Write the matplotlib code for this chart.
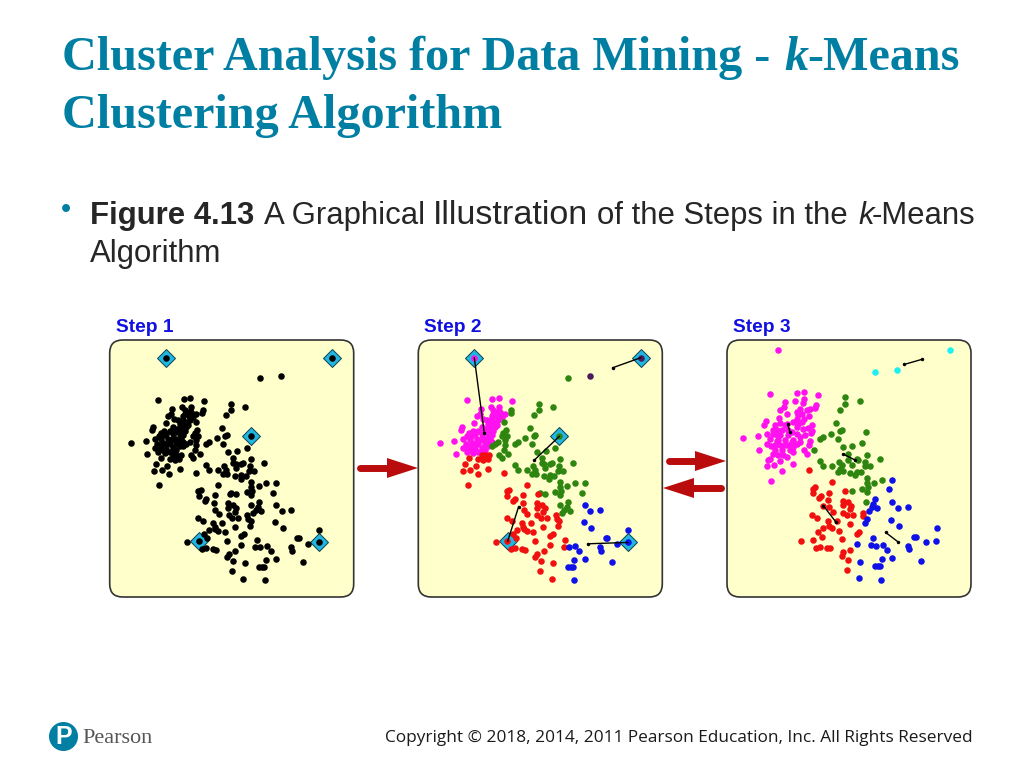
import matplotlib
matplotlib.use("Agg")
import matplotlib.pyplot as plt
from matplotlib.patches import FancyBboxPatch, Polygon, Circle

# point readings for steps 1 and 2 (same points, step 1 is just all of them in black)
s2_magenta = [(193,143),(170,268),(247,265),(266,264),(307,271),(213,295),(242,290),(268,290),(284,312),(262,305),
    (250,300),(270,305),(210,310),(200,318),(245,318),(262,318),(218,326),(245,330),(258,335),(235,340),(193,338),
    (155,350),(153,360),(215,350),(205,362),(228,355),(245,345),(188,362),(178,368),(172,378),(195,370),(215,372),
    (235,370),(250,362),(133,391),(90,398),(160,385),(180,385),(200,385),(225,385),(240,385),(168,400),(185,398),
    (205,400),(225,400),(245,395),(160,412),(175,415),(195,415),(215,412),(235,408),(137,432),(170,425),(190,428),
    (205,425),(225,420),(180,405),(210,390),(255,350),(265,328),(230,330),(240,355),(260,345),(215,385),(190,375),
    (235,395),(195,400),(215,425),(250,310),(275,320),(185,420),(220,365),(245,375)]
s2_green = [(448,378),(475,205),(388,280),(388,298),(430,290),(373,315),(304,298),(302,308),(283,334),(288,360),(280,368),
    (276,376),(290,378),(285,388),(361,353),(376,373),(372,378),(346,384),(323,394),(315,400),(265,395),(255,400),
    (245,408),(285,405),(282,418),(366,400),(436,412),(381,424),(407,422),(268,434),(295,432),(275,442),(395,442),
    (450,447),(488,457),(395,458),(314,465),(324,479),(350,479),(369,467),(375,477),(365,490),(378,490),(403,462),
    (420,460),(426,458),(405,472),(446,468),(443,480),(458,480),(401,497),(420,494),(418,504),(433,495),(450,513),
    (495,518),(524,518),(472,527),(450,530),(453,540),(436,544),(516,546),(390,546),(405,550),(450,553),(474,575),
    (449,584),(470,590),(480,600),(463,598),(456,607)]
s2_red = [(178,442),(165,460),(215,433),(225,433),(238,433),(205,445),(220,450),(233,447),(198,466),(235,475),(159,480),
    (181,477),(204,491),(283,488),(173,522),(350,524),(298,538),(290,542),(385,550),(292,555),(340,554),(315,565),
    (310,571),(338,576),(380,578),(395,582),(380,592),(405,592),(342,597),(400,603),(352,610),(382,614),(393,622),
    (410,622),(290,621),(305,630),(438,612),(440,625),(448,632),(445,645),(336,636),(362,636),(340,648),(342,656),
    (350,660),(400,648),(322,659),(308,670),(370,665),(428,670),(420,675),(318,683),(292,692),(258,695),(376,690),
    (466,688),(420,703),(461,708),(303,716),(315,712),(335,716),(345,717),(402,722),(382,730),(376,738),(394,749),
    (430,755),(391,780),(426,803)]
s2_blue = [(524,582),(541,600),(570,597),(521,635),(544,652),(654,659),(588,683),(592,683),(653,695),(620,699),(477,709),
    (496,707),(508,722),(570,708),(573,720),(524,743),(493,746),(606,754),(474,767),(482,768),(489,768),(491,808)]
s2_purple = [(539,199),(692,143)]

seeds = [(193,143),(692,143),(448,378),(293,692),(653,695)]
s2_moves = [((193,143),(223,368)),((692,143),(608,173)),((448,378),(372,450)),((293,692),(326,588)),((653,695),(533,699))]

# step 3 readings
s3_cyan = [(646,185),(712,179),(870,120)]
s3_magenta = [(354,121),(331,250),(410,247),(431,245),(473,254),(376,275),(405,272),(432,265),(430,278),(372,290),(468,285),
    (466,292),(450,296),(360,300),(420,295),(410,305),(440,300),(415,315),(380,310),(356,322),(448,318),(432,325),
    (410,325),(318,333),(313,344),(360,338),(345,345),(380,340),(400,335),(425,335),(455,345),(445,352),(340,358),
    (365,358),(385,358),(410,350),(430,355),(455,362),(320,372),(340,372),(360,375),(385,375),(410,370),(435,375),
    (452,368),(249,384),(293,377),(330,385),(350,392),(375,390),(400,388),(420,395),(450,392),(320,400),(332,408),
    (360,405),(385,405),(410,400),(447,405),(297,420),(345,420),(365,420),(390,420),(432,420),(340,430),(370,435),
    (400,425),(440,430),(330,445),(360,453),(325,450),(320,468),(342,465),(399,462),(366,480),(334,512),(380,440),(355,390),
    (350,360),(375,345),(395,365),(420,380),(345,405),(375,405),(400,410),(350,375),(425,310),(415,340),(395,395),(355,435)]
s3_green = [(556,261),(600,272),(556,281),(541,298),(529,338),(545,358),(540,363),(514,370),(490,380),(481,385),(534,386),
    (619,364),(607,398),(461,420),(549,411),(576,408),(563,430),(621,433),(659,445),(480,453),(592,447),(565,449),
    (575,463),(536,455),(490,466),(517,466),(545,465),(595,450),(614,456),(616,468),(630,468),(535,483),(548,480),
    (540,475),(570,487),(586,493),(590,483),(603,484),(620,502),(666,507),(622,517),(642,517),(605,534),(625,530),
    (575,541),(620,545),(618,575)]
s3_red = [(447,477),(517,513),(466,530),(458,535),(458,548),(507,546),(556,540),(482,556),(476,562),(505,567),(550,570),
    (565,575),(548,583),(572,587),(490,585),(508,588),(570,596),(520,603),(550,607),(560,612),(580,614),(610,606),
    (610,616),(455,614),(472,622),(505,630),(530,630),(570,641),(508,645),(488,652),(515,652),(473,665),(537,660),
    (598,664),(590,670),(485,678),(422,690),(458,688),(545,686),(481,708),(468,713),(500,712),(510,713),(571,719),
    (550,725),(545,735),(563,746),(560,778)]
s3_blue = [(697,507),(688,536),(645,565),(640,580),(697,574),(651,592),(635,590),(628,600),(714,592),(745,589),(620,625),
    (694,629),(616,638),(717,646),(831,652),(767,678),(762,678),(638,683),(797,693),(829,690),(590,699),(632,703),
    (648,705),(668,703),(680,718),(744,705),(748,716),(697,740),(665,743),(782,751),(600,753),(645,765),(654,765),
    (660,766),(596,802),(663,807)]
s3_moves = [((785,148),(733,163)),((383,342),(390,365)),((550,431),(584,448)),((490,585),(527,633)),((715,694),(677,665))]

TEAL = "#007FA3"
MAGENTA = "#FF11F0"
GREEN = "#2E8510"
RED = "#F01010"
BLUE = "#1010E8"
PURPLE = "#4A1A5C"
CYAN = "#1CF0F0"
W, H = 1024, 768

fig = plt.figure(figsize=(W / 100, H / 100), dpi=100)
page = fig.add_axes([0, 0, 1, 1])
page.set_xlim(0, W)
page.set_ylim(H, 0)
page.axis("off")


def dots(ax, pts, color):
    ax.plot([p[0] for p in pts], [p[1] for p in pts], "o", ms=4.7, mec="none", color=color, zorder=3)


def panel(left, xlim):
    top, bottom, width = 340, 597, 244
    page.add_patch(FancyBboxPatch((left + 13, top + 13), width - 26, bottom - top - 26,
                                  boxstyle="round,pad=13,rounding_size=13", fc="#FFFFCC", ec="#333333", lw=1.2))
    ax = fig.add_axes([left / W, 1 - bottom / H, width / W, (bottom - top) / H])
    ax.set_xlim(*xlim)
    ax.set_ylim(858, 90)
    ax.axis("off")
    return ax


def diamonds(ax):
    ax.plot([s[0] for s in seeds], [s[1] for s in seeds], "D", ms=9.6, mfc="#1FB7E1", mec="#10404F", mew=0.7, zorder=2)


def moves(ax, segs, end_ms):
    for a, b in segs:
        ax.plot([a[0], b[0]], [a[1], b[1]], color="black", lw=1, zorder=4)
        ax.plot([b[0]], [b[1]], "o", ms=end_ms, color="black", mec="none", zorder=4)


ax1 = panel(109.7, (25, 757))
diamonds(ax1)
dots(ax1, s2_magenta + s2_green + s2_red + s2_blue + s2_purple, "black")

ax2 = panel(418.3, (25, 757))
diamonds(ax2)
dots(ax2, s2_magenta, MAGENTA)
dots(ax2, s2_green, GREEN)
dots(ax2, s2_red, RED)
dots(ax2, s2_blue, BLUE)
dots(ax2, s2_purple, PURPLE)
moves(ax2, s2_moves, 2.5)

ax3 = panel(727, (201, 933))
dots(ax3, s3_cyan, CYAN)
dots(ax3, s3_magenta, MAGENTA)
dots(ax3, s3_green, GREEN)
dots(ax3, s3_red, RED)
dots(ax3, s3_blue, BLUE)
moves(ax3, s3_moves, 2.5)
for a, b in s3_moves:
    ax3.plot([a[0]], [a[1]], "o", ms=2.5, color="black", mec="none", zorder=4)


def arrow(x0, x1, y):
    # shaft plus triangular head, head points at x1
    sign = 1 if x1 > x0 else -1
    page.plot([x0, x1 - sign * 28], [y, y], color="#BA0C0C", lw=5, solid_capstyle="round")
    page.add_patch(Polygon([(x1, y), (x1 - sign * 31, y - 10), (x1 - sign * 31, y + 10)], fc="#BA0C0C", ec="none"))


arrow(360, 418, 468)
arrow(669, 726, 461)
arrow(721, 663, 488)

# title
tkw = dict(family="Liberation Serif", weight="bold", color=TEAL, fontsize=34.7, va="baseline")
page.text(62, 70, "Cluster Analysis for Data Mining -", **tkw)
page.text(784, 70, "k", style="italic", **tkw)
page.text(807, 70, "-Means", **tkw)
page.text(62, 128, "Clustering Algorithm", **tkw)

# body
bkw = dict(family="Liberation Sans", color="#262626", fontsize=22.4, va="baseline")
page.text(61, 218, "\u2022", family="Liberation Sans", color=TEAL, fontsize=21)
page.text(90, 224, "Figure 4.13", weight="bold", **bkw)
page.text(264, 224, "A Graphical", **bkw)
page.text(433, 224, "Illustration", family="Liberation Sans", color="#262626", fontsize=24.6, va="baseline")
page.text(597, 224, "of the Steps in the", **bkw)
page.text(858, 224, "k", style="italic", **bkw)
page.text(872, 224, "-Means", **bkw)
page.text(90, 262, "Algorithm", **bkw)

for x, label in [(116, "Step 1"), (424.5, "Step 2"), (733, "Step 3")]:
    page.text(x, 332, label, family="Liberation Sans", weight="bold", color="#1010E0", fontsize=13.8)

page.text(385, 742, "Copyright \u00a9 2018, 2014, 2011 Pearson Education, Inc. All Rights Reserved",
          family="Open Sans", color="#1A1A1A", fontsize=12.4)

# logo
page.add_patch(Circle((63.5, 736.5), 14.5, fc=TEAL, ec="none"))
page.text(63.5, 737, "P", family="Liberation Sans", weight="bold", color="white", fontsize=18, ha="center", va="center")
page.text(82, 743, "Pearson", family="Liberation Serif", color="#555555", fontsize=16)

fig.savefig("out.png", dpi=100)
